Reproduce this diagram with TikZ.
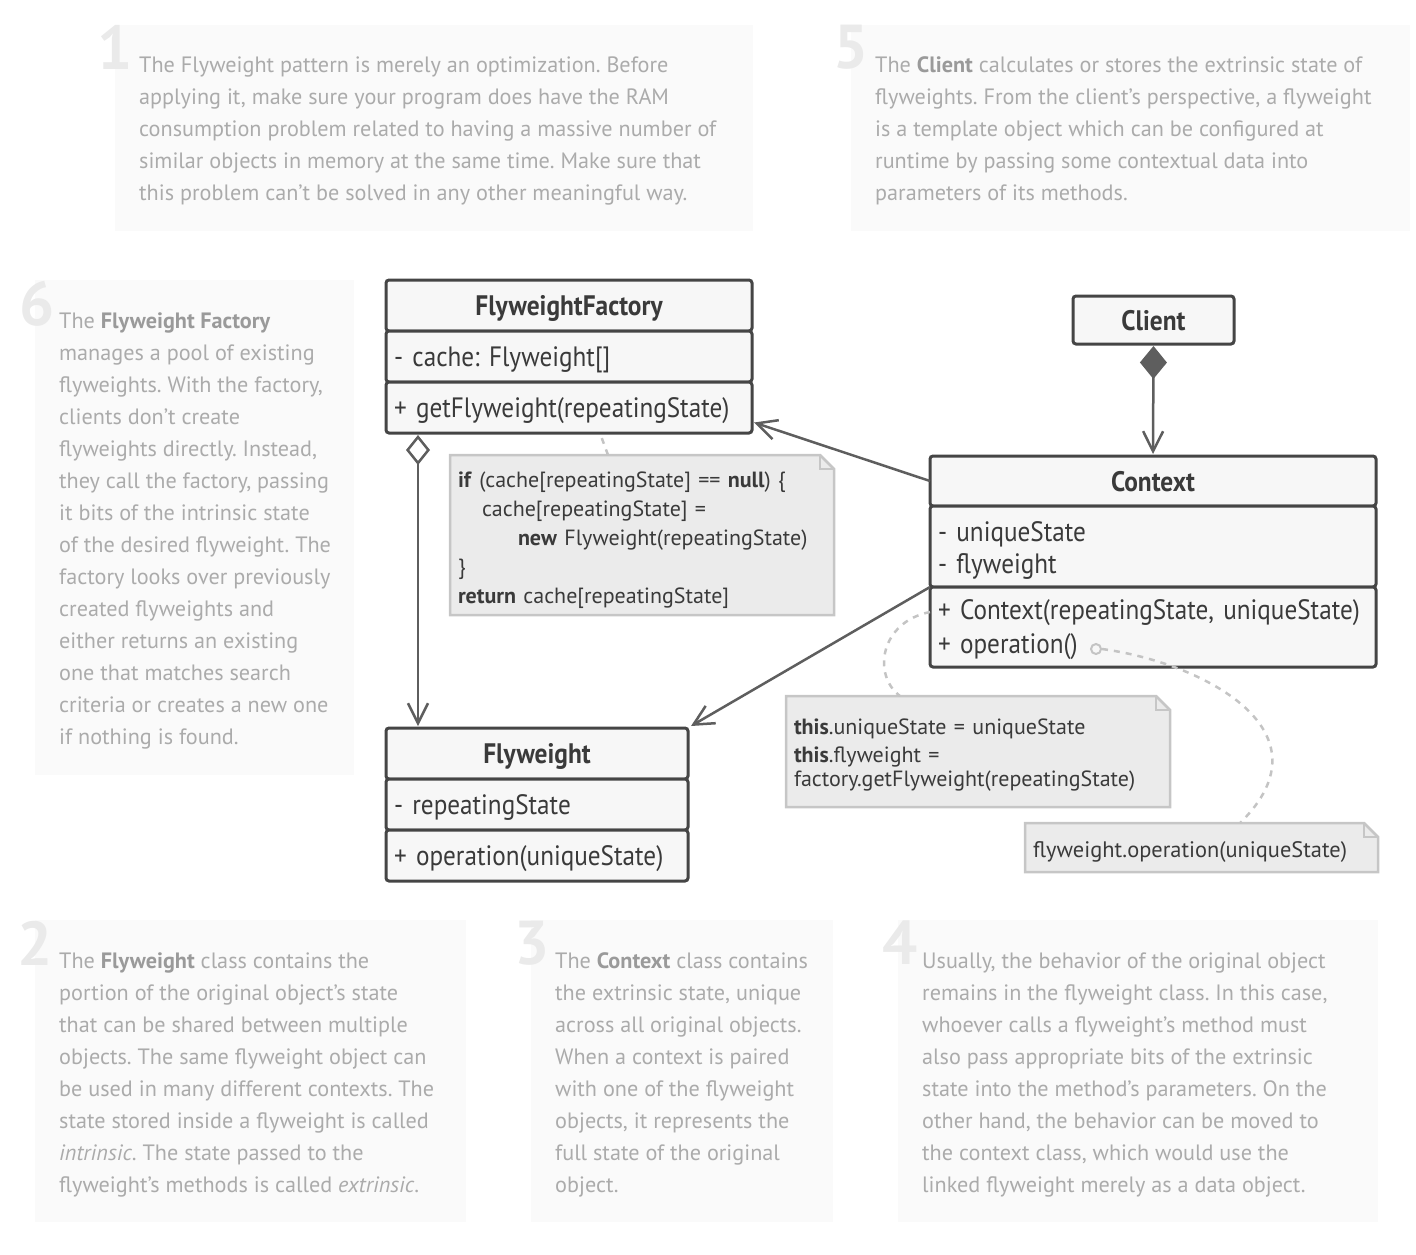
\documentclass[tikz,border=0pt]{standalone}
\usepackage{fontspec}
\setmainfont{PT Sans}
\newfontfamily\dfont[FakeStretch=0.9]{PT Sans}
\usetikzlibrary{arrows.meta,calc,backgrounds}
\definecolor{bordc}{HTML}{454545}
\definecolor{clsfill}{HTML}{F7F7F7}
\definecolor{clstext}{HTML}{3A3A3A}
\definecolor{conc}{HTML}{5E5E5E}
\definecolor{notefill}{HTML}{EBEBEB}
\definecolor{notebord}{HTML}{C6C6C6}
\definecolor{dashc}{HTML}{C4C4C4}
\definecolor{anbgc}{HTML}{FAFAFA}
\definecolor{antc}{HTML}{ABABAB}
\definecolor{anboldc}{HTML}{9A9A9A}
\definecolor{numc}{HTML}{EAEAEA}
\newcommand\hlb[1]{\textbf{\color{anboldc}#1}}
\newcommand\tstrut[1]{\rule{0pt}{#1}}
\frenchspacing
\begin{document}
\begin{tikzpicture}[x=1pt,y=-1pt,
  anbg/.style={fill=anbgc,draw=none},
  annum/.style={anchor=north east,inner sep=0pt,text=numc,font=\fontsize{62}{62}\selectfont\bfseries},
  antext/.style={anchor=north west,inner sep=0pt,align=left,text=antc,font=\fontsize{22.2}{32}\selectfont},
  cls/.style={draw=bordc,line width=3pt,fill=clsfill,rounded corners=3pt,inner xsep=8pt,inner ysep=0pt,outer sep=0pt,text=clstext,anchor=north west},
  clshead/.style={cls,font=\dfont\bfseries\fontsize{28.2}{32}\selectfont,align=center},
  clsmem/.style={cls,font=\dfont\fontsize{28}{32}\selectfont,align=left},
  oneline/.style={text height=24pt,text depth=4pt},
  notet/.style={anchor=north west,inner xsep=8pt,inner ysep=0pt,outer sep=0pt,align=left,text=clstext,font=\fontsize{22}{29}\selectfont},
  notebox/.style={fill=notefill,draw=notebord,line width=2.5pt},
  conn/.style={draw=conc,line width=2.5pt},
  openarr/.style={-{Straight Barb[length=20pt,width=20pt]}},
  dashcon/.style={draw=dashc,line width=2.5pt,dash pattern=on 6pt off 6pt}
]
\useasboundingbox (0,0) rectangle (1416,1254);

% annotation backgrounds
\fill[anbg] (115,25) rectangle (753,231);
\fill[anbg] (851,25) rectangle (1410,231);
\fill[anbg] (35,280) rectangle (354,775);
\fill[anbg] (35,920) rectangle (466,1222);
\fill[anbg] (531,920) rectangle (833,1222);
\fill[anbg] (898,920) rectangle (1378,1222);

% numbers
\node[annum] (num1) at (133,25) {1};
\node[annum] (num5) at (869,25) {5};
\node[annum] (num6) at (55,281) {6};
\node[annum] (num2) at (53,921) {2};
\node[annum] (num3) at (550,921) {3};
\node[annum] (num4) at (918,921) {4};

% annotation texts
\node[antext] (t1) at (139,57) {The Flyweight pattern is merely an optimization. Before\\
applying it, make sure your program does have the RAM\\
consumption problem related to having a massive number of\\
similar objects in memory at the same time. Make sure that\\
this problem can’t be solved in any other meaningful way.};
\node[antext] (t5) at (875,56.5) {The \hlb{Client} calculates or stores the extrinsic state of\\
flyweights. From the client’s perspective, a flyweight\\
is a template object which can be configured at\\
runtime by passing some contextual data into\\
parameters of its methods.};
\node[antext] (t6) at (59,312.5) {The \hlb{Flyweight Factory}\\
manages a pool of existing\\
flyweights. With the factory,\\
clients don’t create\\
flyweights directly. Instead,\\
they call the factory, passing\\
it bits of the intrinsic state\\
of the desired flyweight. The\\
factory looks over previously\\
created flyweights and\\
either returns an existing\\
one that matches search\\
criteria or creates a new one\\
if nothing is found.};
\node[antext] (t2) at (59,952.5) {The \hlb{Flyweight} class contains the\\
portion of the original object’s state\\
that can be shared between multiple\\
objects. The same flyweight object can\\
be used in many different contexts. The\\
state stored inside a flyweight is called\\
\emph{intrinsic}. The state passed to the\\
flyweight’s methods is called \emph{extrinsic}.};
\node[antext] (t3) at (555,952.5) {The \hlb{Context} class contains\\
the extrinsic state, unique\\
across all original objects.\\
When a context is paired\\
with one of the flyweight\\
objects, it represents the\\
full state of the original\\
object.};
\node[antext] (t4) at (922,952.5) {Usually, the behavior of the original object\\
remains in the flyweight class. In this case,\\
whoever calls a flyweight’s method must\\
also pass appropriate bits of the extrinsic\\
state into the method’s parameters. On the\\
other hand, the behavior can be moved to\\
the context class, which would use the\\
linked flyweight merely as a data object.};

% FlyweightFactory
\node[clshead,oneline,minimum height=51pt,text width=350pt] (ffh) at (386,280) {FlyweightFactory};
\node[clsmem,oneline,minimum height=51pt,text width=350pt] (ffa) at (ffh.south west) {- cache: Flyweight[]};
\node[clsmem,oneline,minimum height=51pt,text width=350pt] (ffm) at (ffa.south west) {+ getFlyweight(repeatingState)};

% Client
\node[clshead,oneline,minimum height=48pt,text width=145pt] (cl) at (1073,296) {Client};

% Context
\node[clshead,oneline,minimum height=50pt,text width=430pt] (ch) at (930,456) {Context};
\node[clsmem,minimum height=81pt,text width=430pt] (ca) at (ch.south west) {\tstrut{27pt}- uniqueState\\- flyweight};
\node[clsmem,minimum height=80pt,text width=430pt] (cm) at (ca.south west) {\tstrut{26pt}+ Context(repeatingState, uniqueState)\\[2pt]+ operation()};

% Flyweight
\node[clshead,oneline,minimum height=51pt,text width=286pt] (fh) at (386,728) {Flyweight};
\node[clsmem,oneline,minimum height=51pt,text width=286pt] (fa) at (fh.south west) {- repeatingState};
\node[clsmem,oneline,minimum height=51pt,text width=286pt] (fm) at (fa.south west) {+ operation(uniqueState)};

% notes
\node[notet,text width=368pt,minimum height=160pt] (n1) at (450,455) {\tstrut{27pt}\textbf{if} (cache[repeatingState] == \textbf{null}) \{\\
\hspace*{24pt}cache[repeatingState] =\\
\hspace*{60pt}\textbf{new} Flyweight(repeatingState)\\
\}\\
\textbf{return} cache[repeatingState]};
\node[notet,text width=368pt,minimum height=111pt] (n2) at (786,696) {\tstrut{23pt}\textbf{this}.uniqueState = uniqueState\\[-1pt]
\textbf{this}.flyweight =\\[-5pt]
factory.getFlyweight(repeatingState)};
\node[notet,text width=337pt,minimum height=49pt,font=\fontsize{22.4}{29}\selectfont] (n3) at (1025,823) {\tstrut{25pt}flyweight.operation(uniqueState)};

\begin{scope}[on background layer]
\foreach \n in {n1,n2,n3}{
  \draw[notebox] (\n.north west) -- ($(\n.north east)+(-14,0)$) -- ($(\n.north east)+(0,14)$) -- (\n.south east) -- (\n.south west) -- cycle;
  \draw[draw=notebord,line width=2pt] ($(\n.north east)+(-14,0)$) -- ($(\n.north east)+(-14,14)$) -- ($(\n.north east)+(0,14)$);
}
\end{scope}

% small circle
\node[circle,draw=dashc,line width=2pt,minimum size=10pt,inner sep=0pt] (opc) at (1096,649) {};

% dashed connectors
\draw[dashcon] ($(n1.north west)+(158,0)$) -- ($(ffm.south west)+(215,3)$);
\draw[dashcon] ($(cm.west)+(0,-15)$) .. controls (880,622) and (872,675) .. ($(n2.north west)+(114,0)$);
\draw[dashcon] (opc.east) .. controls (1200,662) and (1335,730) .. ($(n3.north west)+(215,0)$);

% connectors
\draw[conn,openarr] (ch.west) -- ($(ffm.east)+(2,15)$);
\draw[conn,openarr] (ca.south west) -- ($(fh.north east)+(3,-2)$);
\draw[conn,{Diamond[open,length=30pt,width=24pt]}-{Straight Barb[length=20pt,width=20pt]}] ($(ffm.south west)+(32,2)$) -- ($(fh.north west)+(32,-2)$);
\draw[conn,{Diamond[length=33pt,width=27pt]}-{Straight Barb[length=20pt,width=20pt]}] ($(cl.south)+(0,2)$) -- ($(ch.north)+(0,-2)$);
\end{tikzpicture}
\end{document}
